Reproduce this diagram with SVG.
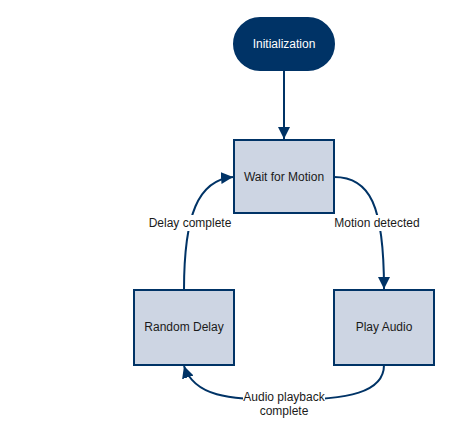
<svg xmlns="http://www.w3.org/2000/svg" width="454" height="438" viewBox="0 0 454 438">
<defs>
<style>
.box{fill:#cdd5e3;stroke:#003366;stroke-width:2}
.term{fill:#003366;stroke:#003366;stroke-width:2}
.lbl{font-family:"Liberation Sans",Arial,sans-serif;font-size:12px;fill:#1a1a1a;text-anchor:middle;dominant-baseline:central}
.tl{font-family:"Liberation Sans",Arial,sans-serif;font-size:12px;fill:#ffffff;text-anchor:middle;dominant-baseline:central}
.edge{fill:none;stroke:#003366;stroke-width:2}
.bg{fill:#ffffff}
</style>
<marker id="arr" viewBox="0 0 10 10" refX="10" refY="5" markerWidth="12" markerHeight="12" markerUnits="userSpaceOnUse" orient="auto">
<path d="M0,0 L10,5 L0,10 z" fill="#003366"/>
</marker>
</defs>
<rect width="454" height="438" fill="#ffffff"/>
<g id="connectors">
<path class="edge" d="M284,70 L284,139" marker-end="url(#arr)"/>
<path class="edge" d="M334,177 C370,177 384,205 384,289" marker-end="url(#arr)"/>
<path class="edge" d="M184,290 C184,215 198,180 233,177" marker-end="url(#arr)"/>
<path class="edge" d="M384,365 C384,392 350,400 284,400 C228,400 194,396 184,366" marker-end="url(#arr)"/>
<rect class="bg" x="148" y="215" width="84" height="16"/>
<text class="lbl" x="190" y="223">Delay complete</text>
<rect class="bg" x="333" y="215" width="88" height="16"/>
<text class="lbl" x="377" y="223">Motion detected</text>
<rect class="bg" x="243" y="391" width="82" height="28"/>
<text class="lbl" x="284" y="397">Audio playback</text>
<text class="lbl" x="284" y="411">complete</text>
</g>
<g id="init">
<rect class="term" x="234" y="18" width="100" height="52" rx="26"/>
<text class="tl" x="284" y="44">Initialization</text>
</g>
<g id="wait">
<rect class="box" x="234" y="140" width="100" height="73"/>
<text class="lbl" x="284" y="177">Wait for Motion</text>
</g>
<g id="delay">
<rect class="box" x="134" y="290" width="100" height="75"/>
<text class="lbl" x="184" y="327">Random Delay</text>
</g>
<g id="play">
<rect class="box" x="334" y="290" width="100" height="75"/>
<text class="lbl" x="384" y="327">Play Audio</text>
</g>
</svg>
